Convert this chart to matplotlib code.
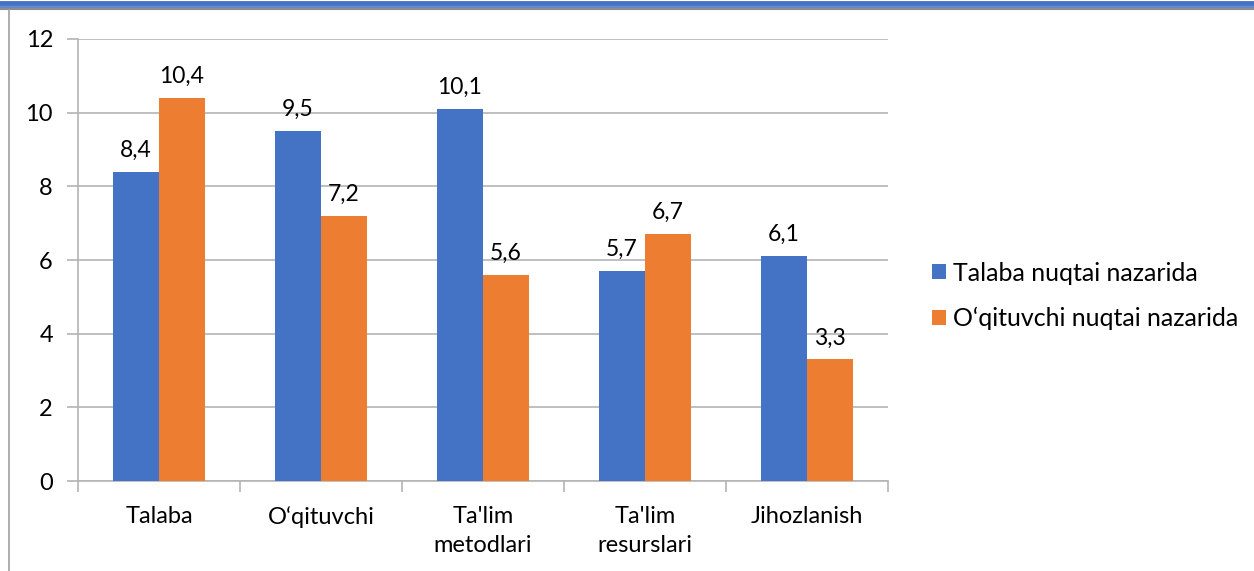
import matplotlib
matplotlib.use('Agg')
import matplotlib.pyplot as plt
import numpy as np
from matplotlib.lines import Line2D

plt.rcParams['font.family'] = ['Lato', 'DejaVu Sans']

categories = ['Talaba', 'O‘qituvchi', "Ta'lim\nmetodlari", "Ta'lim\nresurslari", 'Jihozlanish']
talaba = [8.4, 9.5, 10.1, 5.7, 6.1]
oqituvchi = [10.4, 7.2, 5.6, 6.7, 3.3]
series_names = ['Talaba nuqtai nazarida', 'O‘qituvchi nuqtai nazarida']

blue = '#4472c4'
orange = '#ed7d31'
grid_c = '#b4b4b4'

fig = plt.figure(figsize=(12.54, 5.71), dpi=100)
ax = fig.add_axes([0.0622, 0.1576, 0.6459, 0.7741])

x = np.arange(len(categories))
w = 0.284
b1 = ax.bar(x - w / 2, talaba, w, color=blue, label=series_names[0], zorder=3)
b2 = ax.bar(x + w / 2, oqituvchi, w, color=orange, label=series_names[1], zorder=3)

for bars, vals in ((b1, talaba), (b2, oqituvchi)):
    for r, v in zip(bars, vals):
        ax.annotate(str(v).replace('.', ','), (r.get_x() + r.get_width() / 2, v),
                    xytext=(0, 8), textcoords='offset points', ha='center', va='bottom',
                    fontsize=16.5, color='#000000')

ax.set_xlim(-0.5, len(categories) - 0.5)
ax.set_ylim(0, 12)
ax.set_yticks(range(0, 13, 2))
ax.yaxis.grid(True, color=grid_c, linewidth=1.2, zorder=0)
ax.set_axisbelow(True)

for s in ['top', 'right']:
    ax.spines[s].set_visible(False)
for s in ['left', 'bottom']:
    ax.spines[s].set_color(grid_c)
    ax.spines[s].set_linewidth(1.2)

ax.set_xticks(np.arange(-0.5, len(categories)), minor=False)
ax.set_xticklabels([])
ax.set_xticks(x, minor=True)
ax.set_xticklabels(categories, minor=True, fontsize=17, linespacing=1.45)
ax.tick_params(axis='x', which='minor', length=0, pad=18)
ax.tick_params(axis='x', which='major', length=8, color=grid_c, width=1.2)
ax.tick_params(axis='y', length=8, color=grid_c, width=1.2, labelsize=17, pad=10)

ax.legend(loc='center left', bbox_to_anchor=(1.026, 0.4186), frameon=False, fontsize=18,
          handlelength=0.56, handleheight=0.56, handletextpad=0.3, labelspacing=0.9)

# page decoration: double line on top, thin border on left
fig.add_artist(Line2D([0, 1], [0.9947, 0.9947], color=blue, linewidth=3.5, transform=fig.transFigure))
fig.add_artist(Line2D([0, 1], [0.9877, 0.9877], color=blue, linewidth=1.2, transform=fig.transFigure))
fig.add_artist(Line2D([0, 1], [0.9835, 0.9835], color='#8c8c8c', linewidth=1.5, transform=fig.transFigure))
fig.add_artist(Line2D([0.0072, 0.0072], [0, 0.982], color='#a0a0a0', linewidth=1.2, transform=fig.transFigure))

fig.savefig('out.png', dpi=100)
